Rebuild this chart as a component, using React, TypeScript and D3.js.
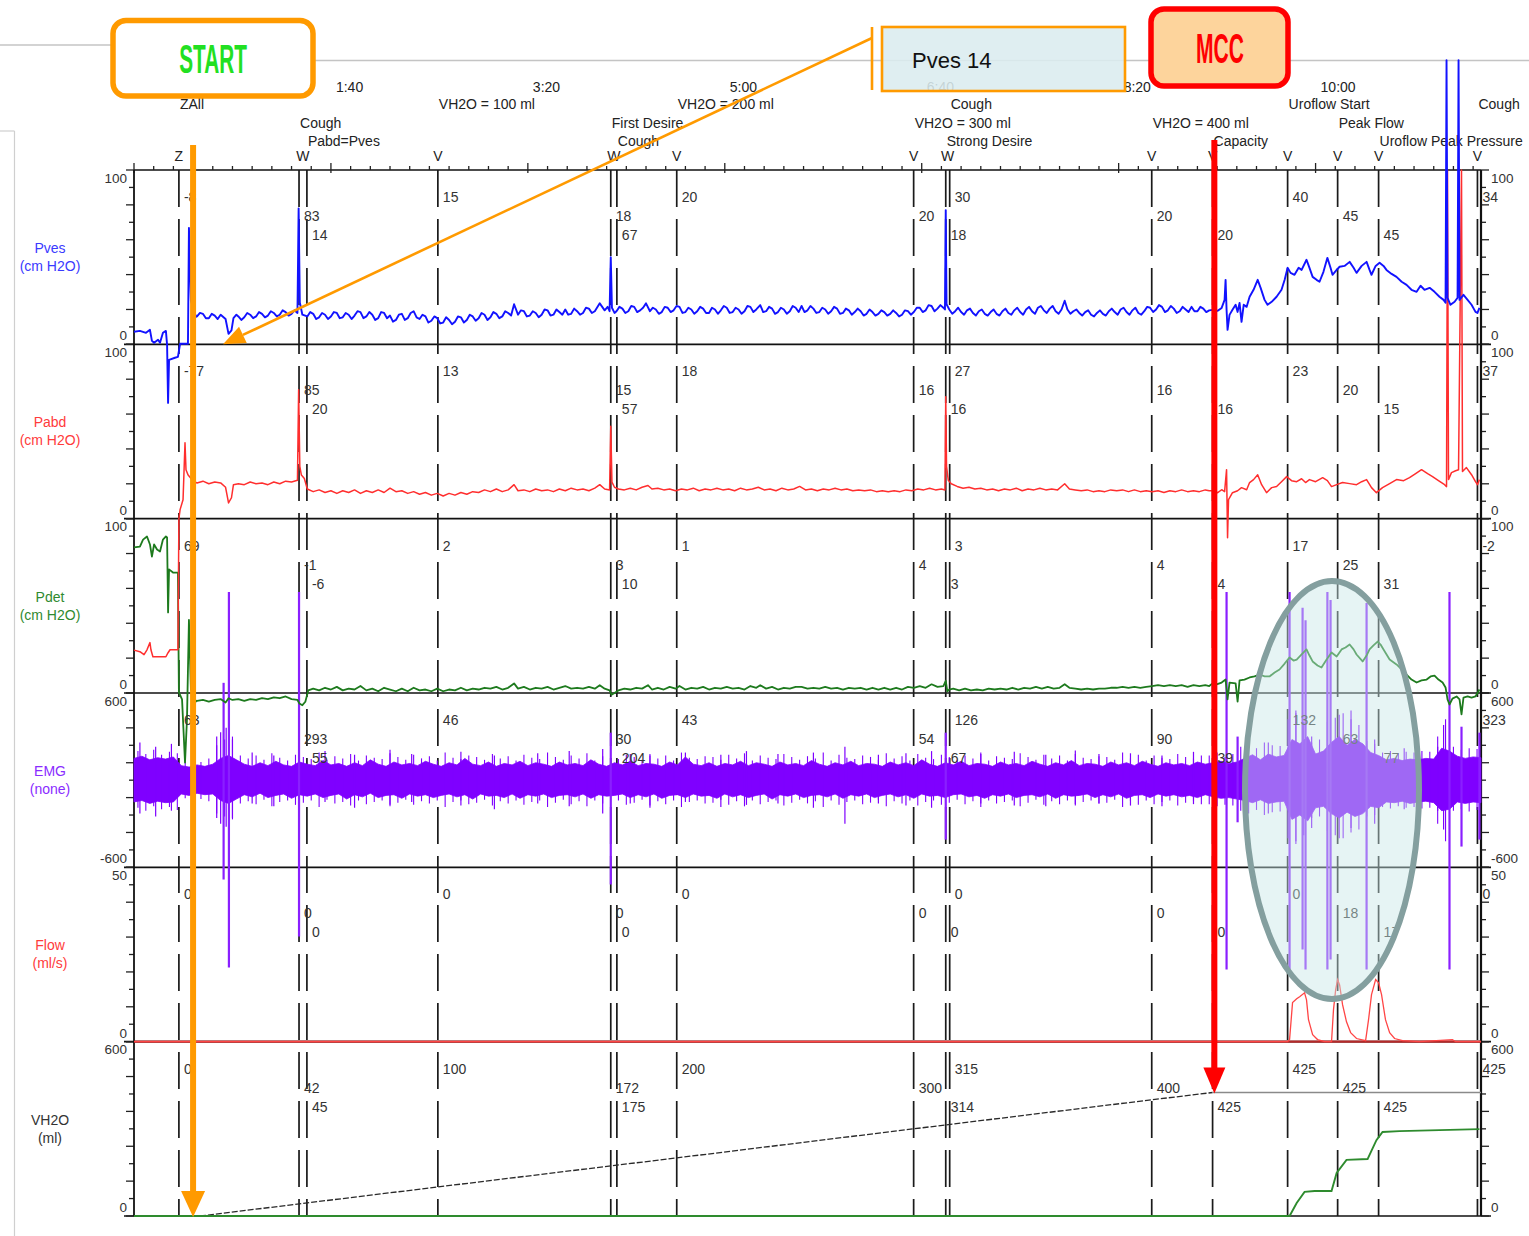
import React from "react";
import * as d3 from "d3";

// ---------------- data ----------------
const timeTickValues = [100, 200, 300, 400, 500, 600];
const timeTickLabels = ["1:40", "3:20", "5:00", "6:40", "8:20", "10:00"];

const eventTimes = [22.8, 83.8, 87.8, 154.3, 242.1, 245.2, 275.6, 395.9, 412.2, 414.2, 516.8, 547.7, 585.8, 611.2, 632.0, 682.2];
const eventMarks = ["Z", "W", "", "V", "W", "", "V", "V", "W", "", "V", "V", "V", "V", "V", "V"];
const eventNotes = ["ZAll", "Cough", "Pabd=Pves", "VH2O = 100 ml", "First Desire", "Cough", "VH2O = 200 ml", "VH2O = 300 ml", "Strong Desire", "Cough", "VH2O = 400 ml", "Capacity", "Uroflow Start", "Peak Flow", "Uroflow Peak Pressure", "Cough"];

const pvesLabels = ["-8", "83", "14", "15", "18", "67", "20", "20", "18", "30", "20", "20", "40", "45", "45", "34"];
const pabdLabels = ["-77", "85", "20", "13", "15", "57", "18", "16", "16", "27", "16", "16", "23", "20", "15", "37"];
const pdetLabels = ["69", "-1", "-6", "2", "3", "10", "1", "4", "3", "3", "4", "4", "17", "25", "31", "-2"];
const emgLabels = ["63", "293", "55", "46", "30", "204", "43", "54", "67", "126", "90", "39", "132", "63", "77", "323"];
const flowLabels = ["0", "0", "0", "0", "0", "0", "0", "0", "0", "0", "0", "0", "0", "18", "17", "0"];
const vh2oLabels = ["0", "42", "45", "100", "172", "175", "200", "300", "314", "315", "400", "425", "425", "425", "425", "425"];

const channelNames = ["Pves", "Pabd", "Pdet", "EMG", "Flow", "VH2O"];
const channelUnits = ["(cm H2O)", "(cm H2O)", "(cm H2O)", "(none)", "(ml/s)", "(ml)"];
const channelMin = [0, 0, 0, -600, 0, 0];
const channelMax = [100, 100, 100, 600, 50, 600];
const channelMinLabels = ["0", "0", "0", "-600", "0", "0"];
const channelMaxLabels = ["100", "100", "100", "600", "50", "600"];

const pvesTrace: [number, number][] = [
  [0, 7.2], [3, 7.7], [6.1, 6.6], [8.1, 8.3], [9.1, 2], [10.2, 0.9], [12.2, 2.6], [13.2, 0.9], [14.7, 6.6], [16.2, 7.7], [16.8, -0.3], [17.3, -33.6], [17.8, -8.9], [20.8, -7.7], [22.3, -7.2], [23.4, 0.3], [26.4, 0.3], [27.4, 0.3], [27.9, 66.8], [28.9, 25], [31.5, 15.8],
  [32, 16], [33.5, 18], [35, 17.5], [36.5, 15], [38, 15], [39.5, 17.5], [41, 16.5], [42.5, 14.5], [44, 17], [46.5, 14.5], [48, 6], [49.5, 8], [50.5, 15], [52, 17], [53, 16], [54.5, 14], [56, 15.5], [57.5, 18], [59, 17], [60.5, 15], [62, 16], [63.5, 18.5], [65, 17.5], [66.5, 15.5], [68, 16.5], [69.5, 19], [71, 18], [72.5, 16], [74, 17], [75.5, 19.5], [77, 18.5], [78.5, 16.5], [80, 17.5], [81.5, 19.5], [83, 18], [83.6, 78], [84.2, 24], [85.5, 17], [88, 16], [89.5, 18.5], [91, 17.5], [92.5, 14.5], [94, 15.5], [95.5, 18], [97, 17], [98.5, 14.5], [100, 16], [101.5, 18.5], [103, 18], [104.5, 15], [106, 15.5], [107.5, 18], [109, 17], [110.5, 14.5], [112, 16.5], [113.5, 19], [115, 18.5], [116.5, 15], [118, 16], [119.5, 18.5], [121, 17], [122.5, 14], [124, 15], [125.5, 18.5], [127, 18], [128.5, 15], [130, 16.5], [131.5, 13], [133, 14], [134.5, 17], [136, 17.5], [137.5, 14], [139, 15], [140.5, 18], [142, 19], [143.5, 15.5], [145, 14.5], [146.5, 17], [148, 16], [149.5, 12.5], [151, 13.5], [152.5, 16], [154, 15], [155.5, 12], [157, 12.5], [158.5, 15.5], [160, 14], [161.5, 11.5], [163, 13], [164.5, 16], [166, 15.5], [167.5, 12.5], [169, 14], [170.5, 17], [172, 16], [173.5, 13.5], [175, 15], [176.5, 18], [178, 17], [179.5, 14], [181, 15.5], [182.5, 18.5], [184, 17.5], [185.5, 15], [187, 16], [188.5, 19], [190, 18], [191.5, 16.5], [193, 23], [195, 17], [196.5, 19.5], [198, 19], [199.5, 16], [201, 16.5], [202.5, 19], [204, 18], [205.5, 15.5], [207, 17], [208.5, 20], [210, 19.5], [211.5, 16.5], [213, 17], [214.5, 20], [216, 18.5], [217.5, 17], [219, 20], [220.5, 17], [222, 17.5], [223.5, 20.5], [225, 19], [226.5, 17], [228, 18], [229.5, 21], [231, 20.5], [232.5, 18], [234, 19], [236.5, 23.5], [239, 19.5], [240.5, 21.5], [241.5, 19], [242.1, 50], [242.7, 21], [244, 18], [245, 19], [246.5, 21.5], [248, 20.5], [249.5, 18], [251, 19], [252.5, 22], [254, 21.5], [255.5, 18.5], [257, 19.5], [258.5, 21], [260, 23.5], [262, 19], [263.5, 21], [265, 20], [266.5, 17.5], [268, 18.5], [269.5, 21.5], [271, 21], [272.5, 18.5], [274, 19.5], [275.5, 22], [277, 21.5], [278.5, 18], [280, 18.5], [281.5, 21], [283, 20], [284.5, 17.5], [286, 19], [287.5, 21.5], [289, 20.5], [290.5, 18], [292, 18], [293.5, 21], [295, 20], [296.5, 17.5], [298, 19.5], [299.5, 22], [301, 21], [302.5, 18], [304, 18.5], [305.5, 21], [307, 20], [308.5, 17.5], [310, 19], [311.5, 22], [313, 21.5], [314.5, 18.5], [316, 20], [318, 22.5], [319.5, 18.5], [321, 19], [322.5, 21.5], [324, 20.5], [325.5, 17.5], [327, 18.5], [328.5, 21], [330, 20], [331.5, 17.5], [333, 19], [334.5, 22], [336, 21], [337.5, 18.5], [339, 22], [340.5, 18.5], [342, 19.5], [343.5, 22], [345, 20.5], [346.5, 18], [348, 18.5], [349.5, 21], [351, 20], [352.5, 17.5], [354, 19], [355.5, 21.5], [357, 20.5], [358.5, 17.5], [360, 18], [361.5, 20.5], [363, 19.5], [364.5, 17], [366, 18.5], [367.5, 20.5], [369, 19], [370.5, 16.5], [372, 17.5], [373.5, 20], [375, 18.5], [376.5, 16.5], [378, 17.5], [379.5, 19.5], [381, 18.5], [382.5, 16.5], [384, 17.5], [385.5, 19.5], [387, 18], [388.5, 16], [390, 17], [391.5, 19.5], [393, 19], [394.5, 17], [396, 18.5], [397.5, 21], [399, 21], [400.5, 18.5], [402, 19.5], [403.5, 22.5], [405, 22], [406.5, 19], [408, 20.5], [409.5, 22.5], [411, 21], [411.8, 20], [412.2, 77], [412.6, 23], [414, 20], [415.5, 17.5], [417, 19], [418.5, 21], [420, 18.5], [421.5, 17], [423, 19.5], [424.5, 20.5], [426, 18], [427.5, 16.5], [429, 19], [430.5, 20], [432, 17.5], [433.5, 16.5], [435, 18.5], [436.5, 20], [438, 17.5], [439.5, 16.5], [441, 19], [442.5, 20.5], [444, 18], [445.5, 17], [447, 19.5], [448.5, 21], [450, 18.5], [451.5, 17], [453, 20], [454.5, 21.5], [456, 19], [457.5, 17.5], [459, 21], [460.5, 22], [462, 19.5], [463.5, 18], [465, 20.5], [466.5, 22], [468, 19], [469.5, 17.5], [471, 20], [472.6, 25], [474, 20], [475.5, 17.5], [477, 19], [478.5, 20], [480, 18], [481.5, 16.5], [483, 18.5], [484.5, 19.5], [486, 17], [487.5, 16], [489, 18], [490.5, 19.5], [492, 17.5], [493.5, 16.5], [495, 19], [496.5, 20.5], [498, 18.5], [499.5, 17], [501, 20], [502.5, 21], [504, 18.5], [505.5, 17], [507, 19.5], [508.5, 21], [510, 18], [511.5, 17], [513, 19], [514.5, 21.5], [516, 21], [517.5, 18.5], [519, 20], [520.5, 22.5], [522, 21.5], [523.5, 18.5], [525, 19.5], [526.5, 22], [528, 20.5], [529.5, 18], [531, 19], [532.5, 21.5], [534, 20], [535.5, 18.5], [537, 21.5], [538.5, 19], [540, 19], [541.5, 21.5], [543, 20.5], [544.5, 18.5], [546, 19.5],
  [547.7, 19.8], [550.3, 19.2], [552.3, 20.9], [553.8, 25.5], [554.3, 37], [554.8, 19.8], [555.3, 8.3], [556.3, 16.9], [557.8, 19.8], [559.4, 22.7], [560.4, 18.6], [561.4, 23.8], [562.4, 12.9], [563.5, 22.7], [565, 21.5], [566.5, 27.3], [568.5, 31.3], [570.6, 37], [572.1, 32.4], [574.1, 25.5], [575.6, 22.7], [577.7, 24.4], [580.2, 27.3], [582.7, 31.3], [584.3, 37], [585.8, 43.9], [587.3, 41], [589.3, 39.9], [591.4, 43.9], [592.9, 42.7], [595.4, 48.5], [596.9, 43.9], [598.5, 38.7], [600.5, 37], [602, 35.9], [604, 41.6], [606, 49.6], [607.6, 43.9], [608.6, 39.9], [610.7, 42.7], [612.2, 44.5], [614.7, 45], [617.3, 47.3], [619.3, 43.9], [620.8, 41], [623.4, 45], [625.9, 47.3], [627.4, 42.7], [628.4, 39.9], [630.5, 45], [632.5, 46.8], [634.5, 45], [636, 42.7], [638.6, 40.4], [641.1, 38.7], [643.7, 35.9], [646.2, 34.1], [648.7, 31.3], [651.3, 30.1], [653.3, 33.6], [655.3, 31.3], [657.9, 32.4], [660.4, 30.1], [662.9, 27.3], [665, 25.5], [666, 23.8], [666.5, 163], [667, 26.7], [668.5, 22.7], [670.6, 24.4], [672.1, 26.7], [672.6, 163], [673.1, 25.5], [675.1, 28.4], [677.2, 25.5], [679.2, 22.7], [681.2, 18.6], [682.2, 18], [683.2, 20.9],
];

const pabdTrace: [number, number][] = [
  [0, -75.4], [3, -76.3], [5.1, -78], [6.6, -75.2], [8.1, -71.1], [8.6, -75.2], [9.6, -79.2], [13.2, -79.2], [16.2, -79.2], [17.3, -76.9], [18.3, -75.2], [22.3, -75.2], [22.8, 0], [23.4, 5.2], [24.9, 10.9], [25.9, 43.6], [26.4, 28.1], [27.4, 25.2], [29.4, 22.4], [31.5, 20.7],
  [32, 20.5], [35, 21.5], [38, 20], [41, 21], [44, 20.5], [46.5, 18], [48, 9], [49.5, 12], [50.5, 19.5], [53, 20], [56, 19.5], [59, 21], [62, 20], [65, 20.5], [68, 19.5], [71, 21], [74, 20], [77, 21.5], [80, 21], [83, 22], [83.6, 74], [84.2, 30], [85, 25], [86.5, 23], [88, 17], [91, 15.5], [94, 16.5], [97, 15], [100, 16], [103, 14.5], [106, 16], [109, 15], [112, 16.5], [115, 14.5], [118, 16], [121, 15], [124, 16.5], [127, 15], [130, 17.5], [133, 15.5], [136, 16], [139, 14.5], [142, 15.5], [145, 14], [148, 15], [151, 13.5], [154, 14.5], [157, 13], [160, 14.5], [163, 13.5], [166, 15], [169, 14], [172, 15.5], [175, 15], [178, 16.5], [181, 15.5], [184, 17], [187, 15.5], [190, 16.5], [193, 19.5], [195, 16], [198, 16.5], [201, 15.5], [204, 17], [207, 16], [210, 16.5], [213, 15.5], [216, 17], [219, 16], [222, 17.5], [225, 16.5], [228, 17], [231, 16], [234, 17.5], [236.5, 19.5], [239, 17], [241.5, 16.5], [242.1, 53], [242.7, 21], [244, 18], [246, 17], [249, 16.5], [252, 17.5], [255, 16.5], [258, 18], [261, 19], [263, 17], [266, 17.5], [269, 16.5], [272, 17], [275, 16], [278, 17], [281, 16.5], [284, 17.5], [287, 16], [290, 17], [293, 16.5], [296, 17.5], [299, 16.5], [302, 17], [305, 16], [308, 17.5], [311, 16.5], [314, 17], [317, 18], [320, 16.5], [323, 17], [326, 16], [329, 17.5], [332, 16.5], [335, 17], [338, 18.5], [341, 16.5], [344, 17], [347, 16], [350, 17], [353, 16.5], [356, 17.5], [359, 16.5], [362, 17], [365, 16], [368, 16.5], [371, 16], [374, 16.5], [377, 15.5], [380, 16], [383, 15.5], [386, 16], [389, 15.5], [392, 16.5], [395, 16], [398, 17], [401, 16.5], [404, 17.5], [407, 16.5], [410, 17], [411.8, 16.5], [412.2, 70], [412.6, 30], [413.5, 22], [415, 20], [418, 18.5], [421, 17.5], [424, 18], [427, 17], [430, 17.5], [433, 16.5], [436, 17], [439, 16], [442, 17], [445, 16.5], [448, 17.5], [451, 16], [454, 17], [457, 16.5], [460, 17.5], [463, 16.5], [466, 17], [469, 16.5], [472.6, 20], [475, 17], [478, 16.5], [481, 16], [484, 16.5], [487, 15.5], [490, 16], [493, 15.5], [496, 16.5], [499, 16], [502, 16.5], [505, 15.5], [508, 16.5], [511, 15.5], [514, 16], [517, 15.5], [520, 16], [523, 15], [526, 16], [529, 15.5], [532, 16.5], [535, 15.5], [538, 16], [541, 15.5], [544, 16.5], [546, 16],
  [547.7, 16], [550.3, 14.9], [552.3, 16.6], [553.8, 15.5], [554.8, 28.1], [555.3, -10.9], [555.8, 10.9], [557.8, 14.9], [560.4, 16], [562.4, 17.8], [565, 16.6], [566.5, 20.7], [568.5, 22.4], [570.6, 25.2], [572.6, 19.5], [575.1, 14.9], [577.7, 17.8], [580.2, 18.4], [582.7, 21.2], [585.3, 24.1], [587.8, 21.8], [590.4, 21.2], [592.9, 22.9], [594.9, 20.7], [596.9, 22.4], [600, 21.2], [603.6, 23.5], [606, 21.8], [608.1, 18.4], [610.7, 19.5], [613.7, 20.7], [617.3, 20.1], [620.8, 19.5], [623.4, 21.2], [625.9, 22.4], [628.4, 17.8], [630.9, 14.9], [634, 17.8], [637.6, 20.1], [641.1, 22.4], [644.7, 21.8], [647.7, 23.5], [650.8, 25.8], [653.8, 28.1], [656.9, 25.8], [659.4, 24.1], [662.4, 21.8], [665.5, 19.5], [666.5, 18.4], [667, 200], [667.5, 22.4], [669, 26.4], [671.1, 27.5], [672.6, 28.1], [674.1, 200], [674.6, 27], [676.6, 29.3], [679.2, 25.2], [681.2, 21.2], [682.2, 19.5], [683.2, 22.4],
];

const pdetTrace: [number, number][] = [
  [0, 83.5], [3, 84], [4.6, 88], [6.6, 89.8], [8.1, 85.2], [9.1, 78.3], [10.2, 85.2], [11.7, 82.3], [13.2, 81.2], [14.7, 88], [16.2, 89.8], [16.8, 89.2], [17.3, 46.2], [17.8, 70.9], [19.8, 69.1], [22.3, 69.1], [22.8, 0.3], [24.4, -3.7], [25.9, -39.9], [26.9, -15.2], [27.9, 42], [28.9, 2], [31.5, -4.9],
  [32, -4.5], [35, -4], [38, -5], [41, -4], [44, -3.5], [46.5, -5.5], [48, -3], [50, -4], [53, -3.5], [56, -4.5], [59, -3.5], [62, -4], [65, -3], [68, -3.5], [71, -2.5], [74, -3], [77, -2], [80, -3.5], [83, -4], [84, -6], [85.5, -7], [87, -5], [88.5, 1.5], [91, 2.5], [94, 1.5], [97, 3], [100, 2], [103, 3.5], [106, 1.5], [109, 2.5], [112, 2], [115, 4], [118, 1.5], [121, 2.5], [124, 1], [127, 3], [130, 2], [133, 1], [136, 2.5], [139, 1], [142, 3], [145, 1.5], [148, 2], [151, 1], [154, 2.5], [157, 1], [160, 2], [163, 1.5], [166, 3], [169, 1.5], [172, 2.5], [175, 2], [178, 3], [181, 2.5], [184, 3.5], [187, 2], [190, 3], [193, 5.5], [195, 2.5], [198, 3.5], [201, 2], [204, 3], [207, 2.5], [210, 3.5], [213, 2], [216, 3], [219, 4], [222, 2.5], [225, 3], [228, 2.5], [231, 3.5], [234, 2.5], [236.5, 4.5], [239, 2.5], [241.5, 1.5], [242.5, -1], [244, 0], [246, 1.5], [249, 2.5], [252, 2], [255, 3], [258, 2.5], [261, 4.5], [263, 2], [266, 3], [269, 2], [272, 3.5], [275, 2.5], [277, 4], [280, 2], [283, 3], [286, 2.5], [289, 3.5], [292, 2], [295, 3], [298, 2.5], [301, 3.5], [304, 2.5], [307, 3], [310, 2], [313, 4], [316, 3], [318, 4.5], [321, 2.5], [324, 3.5], [327, 2], [330, 3], [333, 2.5], [336, 3.5], [339, 3.5], [342, 2.5], [345, 3], [348, 2.5], [351, 3.5], [354, 2.5], [357, 3], [360, 2], [363, 3], [366, 2.5], [369, 3], [372, 2], [375, 3], [378, 2], [381, 3], [384, 2], [387, 3], [390, 2], [393, 3.5], [396, 3], [399, 4], [402, 3], [405, 5], [408, 3.5], [411, 4], [412.2, 7], [413, 1], [414, 2], [416, 2.5], [419, 1.5], [422, 2.5], [425, 1.5], [428, 2], [431, 1.5], [434, 2.5], [437, 2], [440, 2.5], [443, 2], [446, 3], [449, 2], [452, 3], [455, 2.5], [458, 3.5], [461, 2.5], [464, 3.5], [467, 2.5], [470, 3], [472.6, 5], [475, 3], [478, 2.5], [481, 2], [484, 2.5], [487, 2], [490, 2.5], [493, 2.5], [496, 3], [499, 3], [502, 3.5], [505, 3], [508, 3.5], [511, 3], [514, 3.5], [517, 4], [520, 4.5], [523, 4], [526, 4.5], [529, 4], [532, 4.5], [535, 3.5], [538, 4.5], [541, 4], [544, 4.5], [546, 4],
  [547.7, 5.5], [549.7, 4.9], [552.3, 6], [554.3, 7.7], [555.3, -3.7], [556.3, 6], [559.4, 5.5], [560.4, -4.9], [561.4, 7.2], [563.9, 7.7], [566.5, 8.9], [569, 9.5], [571.6, 10.6], [574.1, 9.5], [576.6, 9.5], [579.2, 11.8], [581.7, 13.5], [584.3, 16.9], [586.8, 20.4], [588.8, 18.6], [590.4, 19.2], [592.9, 22.1], [595.4, 25], [596.9, 21.5], [598.5, 18.1], [601, 15.8], [603, 14.6], [605.6, 19.2], [608.1, 23.2], [610.7, 20.9], [613.2, 25], [615.2, 26.1], [617.3, 27.8], [619.3, 25], [620.8, 22.1], [623.9, 18.1], [625.9, 21.5], [627.4, 25], [629.4, 27.3], [631.5, 29.5], [633, 27.8], [634.5, 25], [637.6, 19.2], [641.1, 16.4], [643.7, 13.5], [646.2, 10.6], [648.7, 7.7], [651.3, 6], [653.8, 7.2], [656.4, 7.7], [658.4, 9.5], [660.4, 10], [662.4, 7.7], [664.5, 6], [666, 3.2], [667, -3.7], [668, -6.6], [669.5, -3.2], [671.6, -2], [673.1, -3.7], [674.1, -12.3], [675.1, -2.6], [677.2, -2], [679.2, -2.6], [681.2, -2], [683.2, 2],
];

// EMG envelope sampled every 4 s from t = 0
const emgStep = 4;
const emgUpper = [
  150, 165, 140, 155, 145, 160,
  100, 90, 105, 95, 110,
  150, 170, 140,
  110, 95, 120, 100, 130, 105, 95, 125, 110, 100,
  135, 105, 115, 95, 120, 100, 140, 110, 95, 125,
  105, 115, 100, 130, 110, 95, 120, 105, 150, 110,
  100, 125, 95, 115, 105, 130, 100, 120, 110, 95,
  125, 105, 115, 100, 140, 110, 95, 120, 105, 130,
  100, 115, 110, 95, 125, 105, 160, 110, 100, 120,
  95, 115, 105, 130, 100, 120, 110, 95, 125, 105,
  115, 100, 135, 110, 95, 120, 105, 130, 100, 115,
  110, 95, 125, 105, 120, 100, 140, 110, 95, 120,
  105, 130, 100, 115, 110, 95, 125, 105, 115, 100,
  130, 110, 95, 120, 105, 135, 100, 115, 110, 95,
  125, 105, 120, 100, 130, 110, 95, 120, 105, 115,
  100, 125, 110,
  120, 130, 115, 125,
  150, 175, 140, 180, 160, 170,
  280, 250, 300,
  180, 200,
  260, 300, 240, 280, 250,
  190, 170,
  140, 150, 135, 145, 140, 150, 145,
  220, 200,
  165, 150, 160, 155,
];
const emgLower = [
  150, 140, 160, 145, 155, 150,
  95, 105, 90, 100, 95,
  140, 160, 130,
  100, 115, 90, 120, 105, 95, 125, 100, 110, 95,
  120, 105, 95, 130, 100, 115, 90, 120, 105, 100,
  125, 95, 110, 100, 120, 105, 95, 115, 100, 130,
  95, 110, 105, 120, 95, 125, 100, 110, 95, 120,
  105, 100, 115, 95, 125, 100, 110, 105, 95, 120,
  100, 115, 95, 125, 105, 100, 120, 95, 110, 105,
  125, 95, 115, 100, 120, 105, 95, 130, 100, 110,
  95, 120, 105, 100, 115, 95, 125, 100, 110, 95,
  120, 105, 95, 115, 100, 125, 95, 110, 105, 120,
  100, 95, 115, 105, 125, 100, 110, 95, 120, 105,
  100, 115, 95, 125, 100, 110, 105, 95, 120, 100,
  115, 95, 125, 105, 100, 120, 95, 110, 100, 115,
  105, 120, 100,
  115, 125, 120, 130,
  140, 155, 135, 160, 150, 145,
  270, 240, 280,
  190, 180,
  230, 260, 220, 250, 230,
  180, 190,
  150, 155, 145, 160, 150, 145, 155,
  210, 200,
  150, 160, 150, 155,
];
// fine EMG fuzz, sampled every 4 s starting at t = 2 (high and low excursions)
const emgFuzzStart = 2;
const emgFuzzHi = [
  200, 180, 210, 175, 195, 185,
  130, 145, 125, 150, 240,
  280, 300, 170,
  150, 170, 140, 185, 155, 135, 175, 160, 145, 190,
  140, 165, 150, 180, 135, 170, 155, 145, 185, 160,
  140, 175, 150, 165, 135, 190, 155, 145, 170, 160,
  140, 180, 150, 165, 135, 175, 155, 145, 190, 160,
  140, 170, 150, 185, 135, 165, 155, 145, 175, 160,
  140, 180, 150, 170, 135, 190, 155, 145, 165, 160,
  140, 175, 150, 185, 135, 170, 155, 145, 180, 160,
  140, 165, 150, 190, 135, 175, 155, 145, 170, 160,
  140, 185, 150, 165, 135, 180, 155, 145, 175, 160,
  140, 170, 150, 190, 135, 165, 155, 145, 185, 160,
  140, 175, 150, 170, 135, 180, 155, 145, 165, 160,
  140, 190, 150, 175, 135, 170, 155, 145, 180, 160,
  150, 170,
  170, 190, 160, 180,
  230, 250, 220, 260, 240, 235,
  420, 460, 400,
  260, 280,
  400, 430, 460, 420, 380,
  270, 250,
  190, 200, 185, 195, 190, 200, 195,
  300, 420,
  230, 210, 220, 215,
];
const emgFuzzLo = [
  190, 210, 180, 200, 185, 205,
  125, 140, 130, 145, 230,
  250, 270, 160,
  145, 165, 135, 180, 150, 140, 170, 155, 140, 185,
  135, 160, 150, 175, 140, 165, 150, 140, 180, 155,
  135, 170, 145, 160, 140, 185, 150, 140, 165, 155,
  135, 175, 145, 160, 140, 170, 150, 140, 185, 155,
  135, 165, 145, 180, 140, 160, 150, 140, 170, 155,
  135, 175, 145, 165, 140, 185, 150, 140, 160, 155,
  135, 170, 145, 180, 140, 165, 150, 140, 175, 155,
  135, 160, 145, 185, 140, 170, 150, 140, 165, 155,
  135, 180, 145, 160, 140, 175, 150, 140, 170, 155,
  135, 165, 145, 185, 140, 160, 150, 140, 180, 155,
  135, 170, 145, 165, 140, 175, 150, 140, 160, 155,
  135, 185, 145, 170, 140, 165, 150, 140, 175, 155,
  145, 165,
  165, 180, 170, 175,
  210, 230, 205, 240, 220, 215,
  400, 440, 380,
  260, 250,
  350, 380, 400, 360, 340,
  250, 240,
  185, 195, 180, 190, 185, 195, 190,
  300, 420,
  210, 200, 215, 205,
];
// [time, high, low]
const emgBigSpikes: [number, number, number][] = [
  [45.5, 670, -684], [48.2, 1296, -1290], [83.8, 1296, -1076], [242.1, 327, -718], [412.2, 327, -409],
  [554.8, 1296, -1303], [560.4, 300, -290], [586.8, 1296, -1303], [593.4, 1186, -1165], [594.9, 1100, -1303],
  [606, 1296, -1303], [607.6, 1240, -1234], [625.9, 1220, -1303], [668, 1296, -1303], [674.1, 368, -457], [683.2, 327, -409],
];
const emgSmallSpikes: [number, number, number][] = [
  [3, 260, -230], [11, 230, -250], [19, 250, -210], [42, 300, -260], [44, 330, -300], [46.8, 360, -320], [50, 280, -260], [60, 190, -160], [71, 170, -180], [97, 200, -150], [112, 175, -190], [130, 210, -170], [141, 180, -150],
  [166, 195, -175], [183, 170, -200], [205, 185, -160], [221, 200, -180], [238, 215, -230], [252, 180, -160], [262, 170, -190], [280, 190, -150], [298, 175, -185], [311, 200, -170],
  [327, 180, -160], [345, 190, -190], [361, 230, -300], [378, 175, -160], [392, 185, -175], [405, 200, -190], [430, 180, -160], [447, 195, -175], [463, 175, -180], [478, 205, -165],
  [490, 180, -160], [506, 185, -175], [522, 170, -180], [538, 195, -165], [576, 260, -230], [590, 480, -420], [598, 300, -330], [612, 450, -400], [618, 480, -330], [630, 280, -300],
  [645, 220, -200], [662, 230, -210], [665, 380, -340],
];

const flowTrace: [number, number][] = [
  [0, 0], [585.8, 0], [586.8, 0.6], [588.3, 11.2], [590.4, 12.3], [591.9, 12.9], [594.4, 14], [595.4, 12], [596.4, 6.3], [598.5, 2], [601, 0.6], [604.6, 0],
  [608.1, 0], [609.1, 9.2], [610.2, 14.9], [611.2, 17.8], [612.2, 16.3], [613.7, 10.6], [615.7, 5.7], [617.8, 2.6], [620.8, 0.9], [625.4, 0.3],
  [626.9, 6.3], [628.4, 13.5], [630.5, 17.8], [632, 16.9], [633.5, 13.5], [635.5, 6.3], [637.6, 2.6], [640.1, 0.9], [644.2, 0.3], [652.8, 0], [669.5, 0.6], [671.1, 0], [684, 0],
];
const voidedTrace: [number, number][] = [
  [0, 0], [586.8, 0], [590.4, 45], [594.4, 83], [599.5, 86], [608.1, 86], [610.7, 148], [615.7, 193], [626.4, 196], [630.9, 261], [634, 289], [642.6, 292], [683.2, 299],
];
const infusedTrace: [number, number][] = [
  [33.5, 0], [154.3, 100], [275.6, 200], [395.9, 300], [516.8, 400], [547.7, 425],
];
const infusedHold: [number, number][] = [[547.7, 425], [684, 425]];

// ---------------- component ----------------
const FONT = "'Liberation Sans', Arial, Helvetica, sans-serif";
const channelColors = ["#3a3aff", "#ff3b3b", "#2f8a2f", "#8a2cff", "#ff3b3b", "#333333"];

export default function App() {
  const W = 1529, H = 1236;
  const plotLeft = 134, plotRight = 1481, plotTop = 170, plotBottom = 1216;
  const panelH = (plotBottom - plotTop) / 6;
  const x = d3.scaleLinear().domain([0, 684]).range([plotLeft, plotRight]);
  const tops = channelNames.map((_, i) => plotTop + i * panelH);
  const ys = channelNames.map((_, i) =>
    d3.scaleLinear().domain([channelMin[i], channelMax[i]]).range([tops[i] + panelH, tops[i]])
  );
  const lineFor = (ci: number) =>
    d3.line<[number, number]>().x((d) => x(d[0])).y((d) => ys[ci](d[1]));

  const emgArea = d3
    .area<number>()
    .x((_, i) => x(i * emgStep))
    .y0((_, i) => ys[3](-emgLower[i]))
    .y1((d) => ys[3](d));

  const allLabels = [pvesLabels, pabdLabels, pdetLabels, emgLabels, flowLabels, vh2oLabels];
  const topTicks = d3.range(0, 685, 10);
  const noteRowY = [109, 127.5, 146];

  // annotation geometry derived from scales
  const startX = x(30.0);
  const mccX = x(548.6);
  const tipX = x(45.2), tipY = ys[0](0);
  const calloutX = 872, calloutY = 38;
  const dx = tipX - calloutX, dy = tipY - calloutY;
  const len = Math.hypot(dx, dy);
  const ux = dx / len, uy = dy / len;
  const headL = 22, headW = 9;
  const bx = tipX - ux * headL, by = tipY - uy * headL;
  const headPts = `${tipX},${tipY} ${bx - uy * headW},${by + ux * headW} ${bx + uy * headW},${by - ux * headW}`;

  return (
    <div style={{ position: "absolute", left: 0, top: 0, width: W, height: H, background: "#fff" }}>
      <svg width={W} height={H} style={{ display: "block", fontFamily: FONT }}>
        <rect x={0} y={0} width={W} height={H} fill="#fff" />
        {/* page frame lines */}
        <line x1={0} y1={45} x2={113} y2={45} stroke="#c4c4c4" strokeWidth={1.5} />
        <line x1={313} y1={60.5} x2={W} y2={60.5} stroke="#c4c4c4" strokeWidth={1.5} />
        <line x1={0} y1={131} x2={14.5} y2={131} stroke="#cfcfcf" strokeWidth={1.2} />
        <line x1={14.5} y1={131} x2={14.5} y2={H} stroke="#cfcfcf" strokeWidth={1.2} />

        {/* time labels */}
        {timeTickValues.map((t, i) => (
          <text key={"tl" + i} x={x(t) + 5} y={92} fontSize={14} fill="#222">{timeTickLabels[i]}</text>
        ))}
        {/* event notes */}
        {eventTimes.map((t, i) => (
          <text key={"en" + i} x={x(t) + 1} y={noteRowY[i % 3]} fontSize={14} fill="#222">{eventNotes[i]}</text>
        ))}
        {/* event marks */}
        {eventTimes.map((t, i) => {
          const m = eventMarks[i];
          if (!m) return null;
          const cx = m === "W" ? (x(t) + x(eventTimes[i + 1])) / 2 : x(t);
          return (
            <text key={"em" + i} x={cx} y={161} fontSize={14} fill="#222" textAnchor="middle">{m}</text>
          );
        })}

        {/* top axis */}
        <line x1={plotLeft} y1={plotTop} x2={plotRight} y2={plotTop} stroke="#111" strokeWidth={1.6} />
        {topTicks.map((t) => (
          <line key={"tt" + t} x1={x(t)} x2={x(t)} y1={t % 100 === 0 ? 163 : 166} y2={t % 100 === 0 ? 173 : 170} stroke="#222" strokeWidth={1.3} />
        ))}

        {/* panels: boundaries, axes, ticks, labels */}
        {channelNames.map((name, ci) => {
          const top = tops[ci];
          const bottom = top + panelH;
          return (
            <g key={"p" + ci}>
              <line x1={plotLeft - 10} y1={bottom} x2={plotRight + 10} y2={bottom} stroke="#111" strokeWidth={1.6} />
              {d3.range(0, 11).map((k) => {
                const yy = top + (k * panelH) / 10;
                const long = k % 2 === 0;
                return (
                  <g key={"tk" + k}>
                    <line x1={plotLeft - (long ? 8 : 5)} x2={plotLeft} y1={yy} y2={yy} stroke="#222" strokeWidth={1.3} />
                    <line x1={plotRight} x2={plotRight + (long ? 8 : 5)} y1={yy} y2={yy} stroke="#222" strokeWidth={1.3} />
                  </g>
                );
              })}
              <text x={127} y={top + 12.5} fontSize={13.5} fill="#333" textAnchor="end">{channelMaxLabels[ci]}</text>
              <text x={127} y={bottom - 4} fontSize={13.5} fill="#333" textAnchor="end">{channelMinLabels[ci]}</text>
              <text x={1491} y={top + 12.5} fontSize={13.5} fill="#333">{channelMaxLabels[ci]}</text>
              <text x={1491} y={bottom - 4} fontSize={13.5} fill="#333">{channelMinLabels[ci]}</text>
              <text x={50} y={top + 83} fontSize={14} fill={channelColors[ci]} textAnchor="middle">{name}</text>
              <text x={50} y={top + 101} fontSize={14} fill={channelColors[ci]} textAnchor="middle">{channelUnits[ci]}</text>
            </g>
          );
        })}
        <line x1={plotLeft} y1={plotTop} x2={plotLeft} y2={plotBottom} stroke="#111" strokeWidth={1.8} />
        <line x1={plotRight} y1={plotTop} x2={plotRight} y2={plotBottom} stroke="#111" strokeWidth={2.2} />

        {/* event dashed lines */}
        {eventTimes.map((t, i) => (
          <line key={"ev" + i} x1={x(t)} x2={x(t)} y1={plotTop} y2={plotBottom} stroke="#1a1a1a" strokeWidth={1.7} strokeDasharray="37 12" />
        ))}

        {/* flow zero baseline */}
        <line x1={plotLeft} x2={plotRight} y1={ys[4](0)} y2={ys[4](0)} stroke="#b52a2a" strokeWidth={2.2} />

        {/* EMG */}
        <path d={emgArea(emgUpper) || ""} fill="#7f00ff" stroke="#7f00ff" strokeWidth={0.8} />
        {emgFuzzHi.map((hi, i) => {
          const xx = x(emgFuzzStart + i * emgStep);
          return <line key={"ef" + i} x1={xx} x2={xx} y1={ys[3](hi)} y2={ys[3](-emgFuzzLo[i])} stroke="#7f00ff" strokeWidth={1.1} />;
        })}
        {emgSmallSpikes.map((s, i) => (
          <line key={"es" + i} x1={x(s[0])} x2={x(s[0])} y1={ys[3](s[1])} y2={ys[3](s[2])} stroke="#7f00ff" strokeWidth={1.2} />
        ))}
        {emgBigSpikes.map((s, i) => (
          <line key={"eb" + i} x1={x(s[0])} x2={x(s[0])} y1={ys[3](s[1])} y2={ys[3](s[2])} stroke="#8a1fff" strokeWidth={2.2} />
        ))}

        {/* pressure traces */}
        <path d={lineFor(2)(pdetTrace) || ""} fill="none" stroke="#1d7a1d" strokeWidth={1.8} strokeLinejoin="round" />
        <path d={lineFor(1)(pabdTrace) || ""} fill="none" stroke="#ff2e2e" strokeWidth={1.5} strokeLinejoin="round" />
        <path d={lineFor(0)(pvesTrace) || ""} fill="none" stroke="#1212ff" strokeWidth={1.9} strokeLinejoin="round" />

        {/* flow and volume */}
        <path d={lineFor(4)(flowTrace) || ""} fill="none" stroke="#ff4545" strokeWidth={1.3} />
        <path d={lineFor(5)(infusedTrace) || ""} fill="none" stroke="#2a2a2a" strokeWidth={1.3} strokeDasharray="6 2" />
        <path d={lineFor(5)(infusedHold) || ""} fill="none" stroke="#8a8a8a" strokeWidth={1.3} />
        <path d={lineFor(5)(voidedTrace) || ""} fill="none" stroke="#2e8b2e" strokeWidth={1.9} />

        {/* value labels */}
        {allLabels.map((labs, ci) =>
          labs.map((lab, i) => (
            <text key={"vl" + ci + "_" + i} x={x(eventTimes[i]) + 5} y={tops[ci] + 32 + 19 * (i % 3)} fontSize={14} fill="#333">{lab}</text>
          ))
        )}

        {/* ellipse highlight */}
        <ellipse cx={1332} cy={790} rx={87} ry={209} fill="rgb(200,230,230)" fillOpacity={0.45} stroke="#849f9f" strokeWidth={6} />

        {/* START callout */}
        <rect x={113} y={20.5} width={200} height={75.5} rx={13} fill="#fff" stroke="#ff9a00" strokeWidth={5.5} />
        <text x={213} y={73} fontSize={40} fontWeight="bold" fill="#22e022" textAnchor="middle" transform="translate(213,0) scale(0.52,1) translate(-213,0)">START</text>
        <line x1={startX} x2={startX} y1={145} y2={plotBottom - 22} stroke="#ff9a00" strokeWidth={6} />
        <polygon points={`${startX},${plotBottom + 1} ${startX - 12},${plotBottom - 25} ${startX + 12},${plotBottom - 25}`} fill="#ff9a00" />

        {/* Pves 14 callout */}
        <line x1={calloutX} y1={calloutY} x2={bx} y2={by} stroke="#ff9a00" strokeWidth={2.6} />
        <polygon points={headPts} fill="#ff9a00" />
        <line x1={calloutX} x2={calloutX} y1={27} y2={90} stroke="#ff9a00" strokeWidth={2.6} />
        <rect x={882} y={27} width={243} height={64} fill="#dbecef" fillOpacity={0.88} stroke="#ff9a00" strokeWidth={2.6} />
        <text x={912} y={68} fontSize={22} fill="#111">Pves 14</text>

        {/* MCC callout */}
        <rect x={1151} y={9} width={137} height={77} rx={13} fill="#fdd49c" stroke="#ff0000" strokeWidth={5.5} />
        <text x={1220} y={63} fontSize={42} fontWeight="bold" fill="#ff0000" textAnchor="middle" transform="translate(1220,0) scale(0.5,1) translate(-1220,0)">MCC</text>
        <line x1={mccX} x2={mccX} y1={140} y2={ys[5](425) - 22} stroke="#ff0000" strokeWidth={6} />
        <polygon points={`${mccX},${ys[5](425) + 1} ${mccX - 11},${ys[5](425) - 25} ${mccX + 11},${ys[5](425) - 25}`} fill="#ff0000" />
      </svg>
    </div>
  );
}
